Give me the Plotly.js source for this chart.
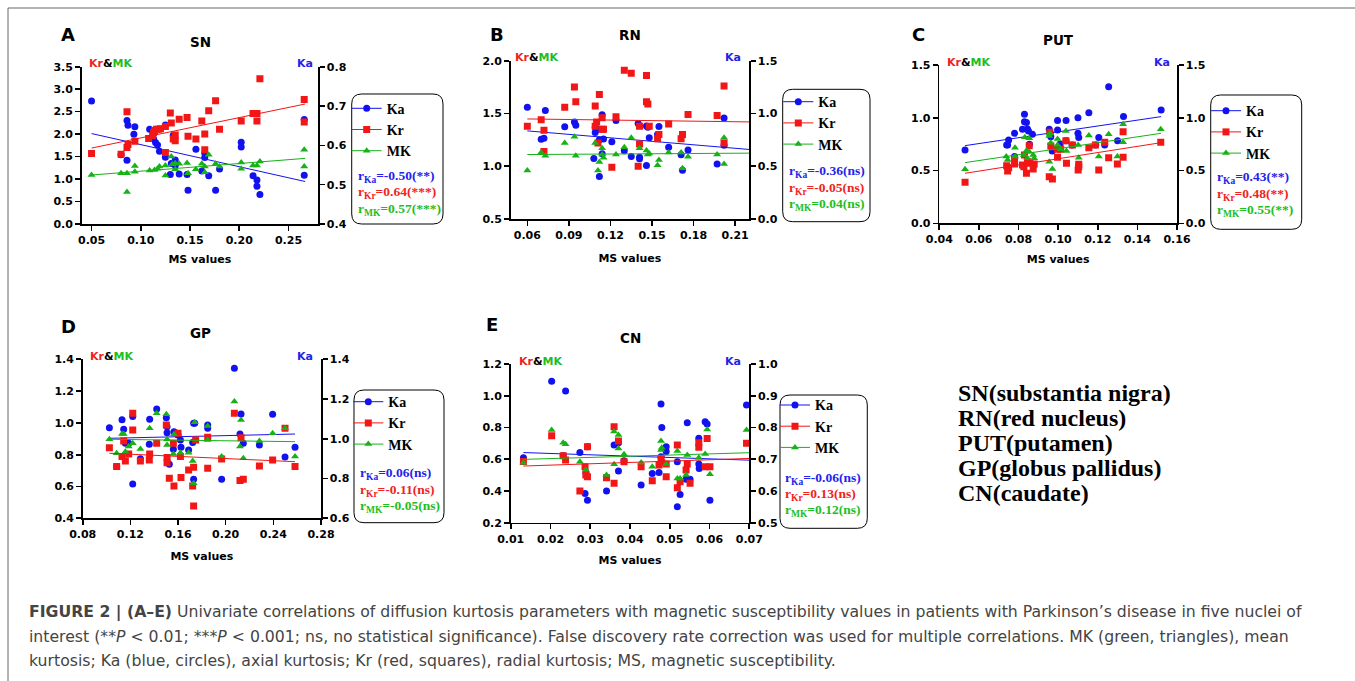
<!DOCTYPE html>
<html><head><meta charset="utf-8">
<script src="https://cdn.plot.ly/plotly-3.0.1.min.js"></script>
<style>html,body{margin:0;padding:0;background:#fff;overflow:hidden}#chart{width:1355px;height:681px}</style>
</head><body><div id="chart"></div>
<script>
// ---------------- DATA ----------------
// Panel A : SN
const snKaMS = [0.050,0.080,0.086,0.087,0.094,0.093,0.086,0.109,0.113,0.115,0.117,0.119,0.125,0.125,0.131,0.130,0.133,0.135,0.135,0.139,0.147,0.148,0.156,0.162,0.165,0.165,0.169,0.176,0.180,0.202,0.202,0.214,0.218,0.218,0.221,0.266,0.266];
const snKa   = [0.713,0.576,0.663,0.651,0.647,0.628,0.562,0.641,0.616,0.607,0.601,0.585,0.652,0.570,0.554,0.526,0.626,0.563,0.549,0.527,0.526,0.486,0.590,0.535,0.580,0.569,0.523,0.486,0.540,0.608,0.596,0.523,0.512,0.496,0.475,0.666,0.524];
const snKrMS = [0.050,0.080,0.086,0.086,0.087,0.094,0.108,0.112,0.113,0.114,0.116,0.118,0.120,0.125,0.125,0.130,0.131,0.133,0.135,0.135,0.139,0.147,0.148,0.156,0.162,0.165,0.165,0.169,0.176,0.180,0.202,0.214,0.218,0.218,0.221,0.266,0.266];
const snKr   = [1.57,1.55,2.50,1.70,1.77,1.84,1.90,1.97,2.03,2.08,2.11,2.11,2.12,2.17,1.59,2.47,2.25,1.89,1.98,1.85,2.33,2.37,1.95,1.89,2.29,2.00,1.65,2.52,2.74,2.11,2.29,2.46,2.46,2.29,3.23,2.77,2.27];
const snMkMS = [0.050,0.080,0.086,0.086,0.094,0.094,0.109,0.114,0.117,0.119,0.125,0.125,0.131,0.132,0.135,0.135,0.139,0.147,0.148,0.156,0.162,0.165,0.165,0.169,0.176,0.180,0.202,0.202,0.214,0.218,0.221,0.266,0.266];
const snMk   = [1.09,1.13,1.13,0.71,1.29,1.16,1.19,1.20,1.23,1.28,1.30,1.08,1.50,1.33,1.35,1.22,1.34,1.36,1.13,1.22,1.34,1.28,1.15,1.54,1.34,1.28,1.37,1.23,1.30,1.30,1.39,1.65,1.28];
const snFitMS = [0.050,0.267];
const snKaFit = [0.630,0.508];
const snKrFit = [1.69,2.67];
const snMkFit = [1.09,1.46];

// Panel B : RN
const rnKaMS = [0.060,0.070,0.072,0.073,0.087,0.094,0.095,0.108,0.109,0.109,0.111,0.112,0.112,0.114,0.114,0.115,0.121,0.124,0.130,0.135,0.140,0.141,0.141,0.146,0.146,0.147,0.148,0.154,0.155,0.162,0.171,0.172,0.176,0.197,0.202,0.202];
const rnKa   = [1.059,0.756,0.766,1.027,0.873,0.920,0.889,0.573,0.819,0.870,0.851,0.750,0.403,0.989,0.618,0.759,0.731,0.933,0.646,0.592,0.904,0.586,0.570,0.507,0.882,0.870,0.769,0.800,0.876,0.681,0.608,0.463,0.655,0.520,0.958,0.700];
const rnKrMS = [0.060,0.070,0.072,0.072,0.087,0.094,0.095,0.109,0.109,0.110,0.112,0.111,0.114,0.115,0.114,0.121,0.124,0.130,0.135,0.140,0.141,0.141,0.146,0.146,0.147,0.148,0.154,0.155,0.162,0.171,0.172,0.176,0.197,0.202,0.202];
const rnKr   = [1.38,1.44,1.34,1.14,1.56,1.75,1.61,1.57,1.38,1.42,1.68,1.22,1.35,1.35,1.46,0.99,1.47,1.91,1.88,1.00,1.38,1.21,1.86,1.61,1.59,1.38,1.26,1.30,1.40,1.26,1.30,1.49,1.48,1.76,1.22];
const rnMkMS = [0.060,0.070,0.073,0.087,0.094,0.095,0.109,0.111,0.112,0.114,0.115,0.114,0.124,0.130,0.135,0.141,0.146,0.147,0.148,0.154,0.155,0.162,0.171,0.172,0.176,0.197,0.202,0.202];
const rnMk   = [0.96,1.13,1.10,1.22,1.28,1.10,1.22,0.96,1.04,1.17,1.08,1.11,1.11,1.18,1.27,1.17,1.15,1.11,1.12,1.01,1.06,1.13,1.13,0.98,1.09,1.11,1.27,1.02];
const rnFitMS = [0.060,0.220];
const rnKaFit = [0.835,0.659];
const rnKrFit = [1.448,1.420];
const rnMkFit = [1.111,1.124];

// Panel C : PUT
const putKaMS = [0.053,0.074,0.0745,0.075,0.078,0.078,0.082,0.083,0.083,0.084,0.0845,0.085,0.0855,0.087,0.0955,0.096,0.0963,0.097,0.0997,0.0997,0.101,0.104,0.104,0.107,0.110,0.110,0.1104,0.1155,0.119,0.1205,0.1235,0.1255,0.130,0.133,0.152];
const putKa   = [0.695,0.742,0.742,0.789,0.853,0.632,0.891,1.033,0.963,0.954,0.894,0.875,0.748,0.843,0.891,0.859,0.821,0.685,0.973,0.884,0.752,0.973,0.783,0.742,1.001,0.853,0.812,1.048,0.742,0.812,0.742,1.295,0.783,1.011,1.074];
const putKrMS = [0.053,0.074,0.0745,0.075,0.078,0.078,0.082,0.0827,0.083,0.084,0.0845,0.0854,0.0857,0.0874,0.0879,0.0955,0.0958,0.0971,0.0963,0.0997,0.0997,0.1013,0.1039,0.1042,0.1072,0.1101,0.1104,0.1104,0.1155,0.1188,0.1205,0.1235,0.1255,0.1299,0.1328,0.1328,0.1518];
const putKr   = [0.388,0.546,0.496,0.527,0.600,0.562,0.553,0.537,0.647,0.474,0.584,0.736,0.568,0.515,0.562,0.442,0.862,0.420,0.733,0.625,0.701,0.701,0.783,0.568,0.742,0.505,0.559,0.537,0.717,0.742,0.505,0.767,0.622,0.562,0.868,0.625,0.767];
const putMkMS = [0.053,0.0738,0.0745,0.0782,0.0782,0.0827,0.0832,0.084,0.0845,0.0854,0.0854,0.0874,0.0879,0.0955,0.0955,0.0958,0.0963,0.0971,0.0997,0.0997,0.1013,0.1039,0.1042,0.1101,0.1104,0.1155,0.1205,0.1255,0.1299,0.1328,0.1328,0.1518];
const putMk   = [0.512,0.632,0.600,0.717,0.632,0.647,0.815,0.688,0.616,0.805,0.679,0.647,0.616,0.827,0.584,0.853,0.764,0.515,0.799,0.742,0.701,0.875,0.685,0.742,0.622,0.831,0.632,0.843,0.632,0.938,0.767,0.891];
const putFitMS = [0.053,0.152];
const putKaFit = [0.736,1.011];
const putKrFit = [0.474,0.764];
const putMkFit = [0.575,0.853];

// Panel D : GP
const gpKaMS = [0.1024,0.1085,0.1130,0.1144,0.1158,0.1186,0.1220,0.1220,0.1284,0.1362,0.1359,0.1421,0.1502,0.1508,0.1508,0.1527,0.1561,0.1566,0.1592,0.1600,0.1620,0.1625,0.1689,0.1723,0.1731,0.1740,0.1731,0.1849,0.1849,0.1966,0.2073,0.2120,0.2129,0.2148,0.2283,0.2394,0.2498,0.2582];
const gpKa   = [1.056,0.860,1.096,1.048,0.977,0.977,1.112,0.773,0.899,1.098,0.972,1.150,1.106,1.061,1.031,0.872,0.947,1.036,1.028,1.019,0.994,0.957,0.944,0.981,1.078,1.078,0.796,1.070,1.053,0.796,1.355,1.024,1.125,0.977,0.969,1.123,0.909,0.957];
const gpKrMS = [0.1024,0.1085,0.1130,0.1144,0.1158,0.1186,0.1220,0.1220,0.1284,0.1362,0.1359,0.1421,0.1502,0.1508,0.1508,0.1527,0.1561,0.1566,0.1600,0.1620,0.1625,0.1689,0.1723,0.1731,0.1731,0.1748,0.1849,0.1849,0.1966,0.2073,0.2120,0.2129,0.2148,0.2283,0.2394,0.2498,0.2582];
const gpKr   = [0.844,0.725,0.788,0.886,0.761,0.805,0.956,1.060,0.761,0.805,0.767,0.872,0.987,0.782,0.750,0.652,0.872,0.603,0.935,0.788,0.656,0.704,0.603,0.721,0.478,0.893,0.714,0.909,0.773,1.060,0.637,0.907,0.645,0.729,0.767,0.966,0.725];
const gpMkMS = [0.1024,0.1085,0.1130,0.1144,0.1158,0.1186,0.1220,0.1284,0.1362,0.1421,0.1502,0.1508,0.1508,0.1561,0.1566,0.1620,0.1689,0.1723,0.1731,0.1740,0.1849,0.1849,0.1966,0.2073,0.2120,0.2129,0.2148,0.2283,0.2394,0.2498,0.2582];
const gpMk   = [0.897,0.809,0.930,0.930,0.819,0.851,0.872,0.836,0.966,1.060,1.054,0.861,0.897,0.805,0.928,0.813,0.813,0.761,0.620,1.004,0.981,0.893,0.788,1.134,0.851,1.018,0.777,0.886,0.935,0.966,0.788];
const gpFitMS = [0.1024,0.2582];
const gpKaFit = [1.0025,1.024];
const gpKrFit = [0.809,0.756];
const gpMkFit = [0.897,0.882];

// Panel E : CN
const cnKaMS = [0.0132,0.0203,0.0232,0.0238,0.0274,0.0287,0.0289,0.0293,0.0293,0.0341,0.0360,0.0371,0.0371,0.0385,0.0428,0.0456,0.0473,0.0478,0.0480,0.0478,0.0491,0.0491,0.0519,0.0519,0.0526,0.0541,0.0544,0.0551,0.0573,0.0573,0.0574,0.0589,0.0594,0.0601,0.0693];
const cnKa   = [0.705,0.946,0.711,0.915,0.721,0.592,0.658,0.571,0.739,0.600,0.745,0.752,0.663,0.695,0.619,0.655,0.658,0.874,0.800,0.708,0.739,0.724,0.692,0.550,0.589,0.637,0.815,0.637,0.766,0.685,0.671,0.818,0.811,0.571,0.871];
const cnKrMS = [0.0132,0.0203,0.0232,0.0238,0.0274,0.0287,0.0289,0.0293,0.0293,0.0341,0.0360,0.0360,0.0371,0.0385,0.0428,0.0456,0.0473,0.0480,0.0478,0.0491,0.0491,0.0519,0.0519,0.0526,0.0544,0.0551,0.0541,0.0573,0.0573,0.0589,0.0594,0.0601,0.0693];
const cnKr   = [0.585,0.748,0.622,0.595,0.400,0.553,0.500,0.490,0.679,0.484,0.448,0.805,0.715,0.584,0.553,0.465,0.563,0.578,0.605,0.570,0.490,0.689,0.421,0.458,0.570,0.448,0.532,0.675,0.704,0.553,0.731,0.553,0.700];
const cnMkMS = [0.0132,0.0203,0.0232,0.0238,0.0274,0.0289,0.0341,0.0360,0.0360,0.0371,0.0371,0.0385,0.0428,0.0456,0.0478,0.0480,0.0478,0.0491,0.0519,0.0519,0.0526,0.0541,0.0544,0.0573,0.0589,0.0594,0.0601,0.0693];
const cnMk   = [0.578,0.784,0.704,0.694,0.584,0.532,0.500,0.774,0.568,0.753,0.668,0.631,0.580,0.553,0.715,0.673,0.658,0.570,0.652,0.479,0.479,0.500,0.626,0.610,0.633,0.788,0.505,0.784];
const cnFitMS = [0.0132,0.070];
const cnKaFit = [0.721,0.697];
const cnKrFit = [0.557,0.605];
const cnMkFit = [0.599,0.641];

// Labels and correlation results
const panelLetters = ['A','B','C','D','E'];
const regionNames  = ['SN','RN','PUT','GP','CN'];
const seriesNames  = ['Ka','Kr','MK'];
const rKa  = [-0.50,-0.36,0.43,0.06,-0.06];
const rKr  = [0.64,-0.05,0.48,-0.11,0.13];
const rMK  = [0.57,0.04,0.55,-0.05,0.12];
const sigKa = ['**','ns','**','ns','ns'];
const sigKr = ['***','ns','**','ns','ns'];
const sigMK = ['***','ns','**','ns','ns'];
const xTitle = 'MS values';
const regionLegend = ['SN(substantia nigra)','RN(red nucleus)','PUT(putamen)','GP(globus pallidus)','CN(caudate)'];
const captionLines = [
  '<b>FIGURE 2 | (A–E)</b> Univariate correlations of diffusion kurtosis parameters with magnetic susceptibility values in patients with Parkinson’s disease in five nuclei of',
  'interest (**<i>P</i> &lt; 0.01; ***<i>P</i> &lt; 0.001; ns, no statistical significance). False discovery rate correction was used for multiple correlations. MK (green, triangles), mean',
  'kurtosis; Ka (blue, circles), axial kurtosis; Kr (red, squares), radial kurtosis; MS, magnetic susceptibility.'
];

const seriesData = [
  {ka:[snKaMS,snKa], kr:[snKrMS,snKr], mk:[snMkMS,snMk], fit:[snFitMS,snKaFit,snKrFit,snMkFit]},
  {ka:[rnKaMS,rnKa], kr:[rnKrMS,rnKr], mk:[rnMkMS,rnMk], fit:[rnFitMS,rnKaFit,rnKrFit,rnMkFit]},
  {ka:[putKaMS,putKa], kr:[putKrMS,putKr], mk:[putMkMS,putMk], fit:[putFitMS,putKaFit,putKrFit,putMkFit]},
  {ka:[gpKaMS,gpKa], kr:[gpKrMS,gpKr], mk:[gpMkMS,gpMk], fit:[gpFitMS,gpKaFit,gpKrFit,gpMkFit]},
  {ka:[cnKaMS,cnKa], kr:[cnKrMS,cnKr], mk:[cnMkMS,cnMk], fit:[cnFitMS,cnKaFit,cnKrFit,cnMkFit]}
];

// ---------------- LAYOUT / STYLE ----------------
const W = 1355, H = 681;
const PX = v => v / W, PY = v => 1 - v / H;
const BLUE = 'rgb(18,18,240)', RED = 'rgb(242,22,22)', GREEN = 'rgb(22,178,22)';
const TBLUE = 'rgb(35,35,235)', TRED = 'rgb(240,35,35)', TGREEN = 'rgb(30,190,30)';
const SANS = 'DejaVu Sans', SERIF = 'Liberation Serif';

// axis boxes (pixels) and scales per panel
const geom = [
  {x0:81.7, x1:318, y0:66.7, y1:224, xr:[0.04,0.28], xt0:0.05, xdt:0.05, lr:[0,3.5], ldt:0.5, rr:[0.4,0.8], rdt:0.1, so:9,
   title:[200,41.7], letter:[68,35], krmk:[110,63.3], ka:[305,63.3], leg:[366.7,108.3], box:[351.7,94,443,224], rtx:356, rty:[176,192.7,209.3]},
  {x0:510.7, x1:749, y0:60.7, y1:219, xr:[0.048,0.22], xt0:0.06, xdt:0.03, lr:[0.5,2.0], ldt:0.5, rr:[0,1.5], rdt:0.5, so:13,
   title:[630,35], letter:[496.7,35], krmk:[536.7,57.7], ka:[733.3,57.7], leg:[798.3,101.7], box:[782.7,89.3,870,221.7], rtx:786.7, rty:[171.7,188.3,204.3]},
  {x0:939.3, x1:1177, y0:65, y1:223.3, xr:[0.04,0.16], xt0:0.04, xdt:0.02, lr:[0,1.5], ldt:0.5, rr:[0,1.5], rdt:0.5, so:10,
   title:[1058.3,40], letter:[918.3,35], krmk:[968.3,62.7], ka:[1161.7,62.7], leg:[1226,110.7], box:[1210.7,95,1301.7,229.3], rtx:1215, rty:[177.3,194,210.7]},
  {x0:82.7, x1:321, y0:359.3, y1:518.3, xr:[0.08,0.28], xt0:0.08, xdt:0.04, lr:[0.4,1.4], ldt:0.2, rr:[0.6,1.4], rdt:0.2, so:12,
   title:[200,333.3], letter:[68.3,326.7], krmk:[111.7,356.7], ka:[305,356.7], leg:[368.3,401.7], box:[354,390,444,522.7], rtx:358.3, rty:[473.3,490,506.7]},
  {x0:510.7, x1:749.3, y0:364, y1:522.7, xr:[0.01,0.07], xt0:0.01, xdt:0.01, lr:[0.2,1.2], ldt:0.2, rr:[0.5,1.0], rdt:0.1, so:12,
   title:[630,338.3], letter:[491.7,325], krmk:[540,361.7], ka:[733.3,361.7], leg:[795,405], box:[780,395,867.3,528.3], rtx:783.3, rty:[478.3,494.3,511]}
];

const tickFont = {family:SANS, size:11, color:'#000', weight:'bold'};
const axisCommon = {showline:true, linecolor:'#000', linewidth:1.6, ticks:'outside', ticklen:5, tickwidth:1.6, tickcolor:'#000',
  showgrid:false, zeroline:false, tickfont:tickFont, tickmode:'linear', fixedrange:true};

const traces = [];
const layout = {width:W, height:H, margin:{l:0,r:0,t:0,b:0}, paper_bgcolor:'#fff', plot_bgcolor:'rgba(0,0,0,0)',
  showlegend:true, annotations:[], shapes:[]};

function ann(text, x, y, font, xanchor, yanchor) {
  layout.annotations.push({text, x:PX(x), y:PY(y), xref:'paper', yref:'paper', showarrow:false,
    xanchor:xanchor||'center', yanchor:yanchor||'middle', font, align:'left'});
}
function roundRect(x0,y0,x1,y1,r){
  const X=v=>PX(v).toFixed(5), Y=v=>PY(v).toFixed(5);
  return `M${X(x0+r)},${Y(y0)} L${X(x1-r)},${Y(y0)} Q${X(x1)},${Y(y0)} ${X(x1)},${Y(y0+r)} `+
    `L${X(x1)},${Y(y1-r)} Q${X(x1)},${Y(y1)} ${X(x1-r)},${Y(y1)} L${X(x0+r)},${Y(y1)} `+
    `Q${X(x0)},${Y(y1)} ${X(x0)},${Y(y1-r)} L${X(x0)},${Y(y0+r)} Q${X(x0)},${Y(y0)} ${X(x0+r)},${Y(y0)} Z`;
}

const markerKa = {symbol:'circle', size:7, color:BLUE};
const markerKr = {symbol:'square', size:7, color:RED};
const markerMk = {symbol:'triangle-up', size:7, color:GREEN};
const subSpan = t => `<sub><span style="font-size:9.5px">${t}</span></sub>`;

geom.forEach((g, i) => {
  const xn = i === 0 ? 'x' : 'x' + (i + 1);
  const ybN = 2*i + 1, yoN = 2*i + 2;
  const yb = ybN === 1 ? 'y' : 'y' + ybN;   // base axis: Ka (right side)
  const yo = 'y' + yoN;                      // overlay axis: Kr & MK (left side)
  const legName = i === 0 ? 'legend' : 'legend' + (i + 1);
  const d = seriesData[i];

  layout[i === 0 ? 'xaxis' : 'xaxis' + (i + 1)] = Object.assign({}, axisCommon, {
    domain:[PX(g.x0), PX(g.x1)], range:g.xr, tick0:g.xt0, dtick:g.xdt, tickformat:'.2f', anchor:yb,
    title:{text:xTitle, font:{family:SANS, size:11, color:'#000', weight:'bold'}, standoff:g.so}
  });
  layout[ybN === 1 ? 'yaxis' : 'yaxis' + ybN] = Object.assign({}, axisCommon, {
    domain:[PY(g.y1), PY(g.y0)], range:g.rr, tick0:g.rr[0], dtick:g.rdt, tickformat:'.1f', side:'right', anchor:xn
  });
  layout['yaxis' + yoN] = Object.assign({}, axisCommon, {
    range:g.lr, tick0:g.lr[0], dtick:g.ldt, tickformat:'.1f', side:'left', anchor:xn, overlaying:yb
  });

  // data points and fitted lines
  traces.push({type:'scatter', mode:'markers', x:d.ka[0], y:d.ka[1], xaxis:xn, yaxis:yb, marker:markerKa, showlegend:false, name:'Ka'});
  traces.push({type:'scatter', mode:'lines', x:d.fit[0], y:d.fit[1], xaxis:xn, yaxis:yb, line:{color:BLUE, width:1}, showlegend:false, hoverinfo:'skip'});
  traces.push({type:'scatter', mode:'markers', x:d.kr[0], y:d.kr[1], xaxis:xn, yaxis:yo, marker:markerKr, showlegend:false, name:'Kr'});
  traces.push({type:'scatter', mode:'markers', x:d.mk[0], y:d.mk[1], xaxis:xn, yaxis:yo, marker:markerMk, showlegend:false, name:'MK'});
  traces.push({type:'scatter', mode:'lines', x:d.fit[0], y:d.fit[2], xaxis:xn, yaxis:yo, line:{color:RED, width:1}, showlegend:false, hoverinfo:'skip'});
  traces.push({type:'scatter', mode:'lines', x:d.fit[0], y:d.fit[3], xaxis:xn, yaxis:yo, line:{color:GREEN, width:1}, showlegend:false, hoverinfo:'skip'});

  // legend entries
  [[markerKa,BLUE],[markerKr,RED],[markerMk,GREEN]].forEach((m, k) => {
    traces.push({type:'scatter', mode:'lines+markers', x:[null], y:[null], xaxis:xn, yaxis:k===0?yb:yo,
      name:seriesNames[k], legend:legName, marker:m[0], line:{color:m[1], width:1}, showlegend:true, hoverinfo:'skip'});
  });
  layout[legName] = {x:PX(g.leg[0]-20), y:PY(g.leg[1]-15.6), xanchor:'left', yanchor:'top', bgcolor:'rgba(0,0,0,0)',
    borderwidth:0, itemwidth:30, traceorder:'normal', font:{family:SERIF, size:14, color:'#000', weight:'bold'}};

  // rounded legend frame
  layout.shapes.push({type:'path', xref:'paper', yref:'paper', path:roundRect(g.box[0],g.box[1],g.box[2],g.box[3],10),
    line:{color:'#000', width:1}, fillcolor:'rgba(0,0,0,0)', layer:'below'});

  // texts
  ann('<b>' + panelLetters[i] + '</b>', g.letter[0], g.letter[1], {family:SANS, size:18, color:'#000', weight:'bold'});
  ann('<b>' + regionNames[i] + '</b>', g.title[0], g.title[1], {family:SANS, size:13.5, color:'#000', weight:'bold'});
  ann(`<b><span style="font-size:11px;color:${TRED}">Kr</span><span style="font-size:11px">&amp;</span><span style="font-size:11px;color:${TGREEN}">MK</span></b>`,
      g.krmk[0], g.krmk[1], {family:SANS, size:11, color:'#000', weight:'bold'});
  ann('<b>Ka</b>', g.ka[0], g.ka[1], {family:SANS, size:11, color:TBLUE, weight:'bold'});
  const rf = c => ({family:SERIF, size:13.5, color:c, weight:'bold'});
  ann(`<b>r${subSpan('Ka')}=${rKa[i].toFixed(2)}(${sigKa[i]})</b>`, g.rtx, g.rty[0], rf(TBLUE), 'left');
  ann(`<b>r${subSpan('Kr')}=${rKr[i].toFixed(2)}(${sigKr[i]})</b>`, g.rtx, g.rty[1], rf(TRED), 'left');
  ann(`<b>r${subSpan('MK')}=${rMK[i].toFixed(2)}(${sigMK[i]})</b>`, g.rtx, g.rty[2], rf(TGREEN), 'left');
});

// region abbreviation key
const keyY = [392.5, 417.5, 442.5, 467.5, 493];
regionLegend.forEach((t, k) => ann('<b>' + t + '</b>', 956, keyY[k], {family:SERIF, size:24, color:'#000', weight:'bold'}, 'left'));

// caption
const capY = [612, 636, 660];
captionLines.forEach((t, k) => ann(t, 27, capY[k], {family:'DejaVu Sans', size:15.7, color:'#444'}, 'left'));

// figure frame
layout.shapes.push({type:'line', xref:'paper', yref:'paper', x0:PX(8), x1:1, y0:PY(8), y1:PY(8), line:{color:'#666', width:1}});
layout.shapes.push({type:'line', xref:'paper', yref:'paper', x0:PX(8), x1:PX(8), y0:PY(8), y1:0, line:{color:'#666', width:1}});

Plotly.newPlot('chart', traces, layout, {staticPlot:true, displayModeBar:false});
</script></body></html>
